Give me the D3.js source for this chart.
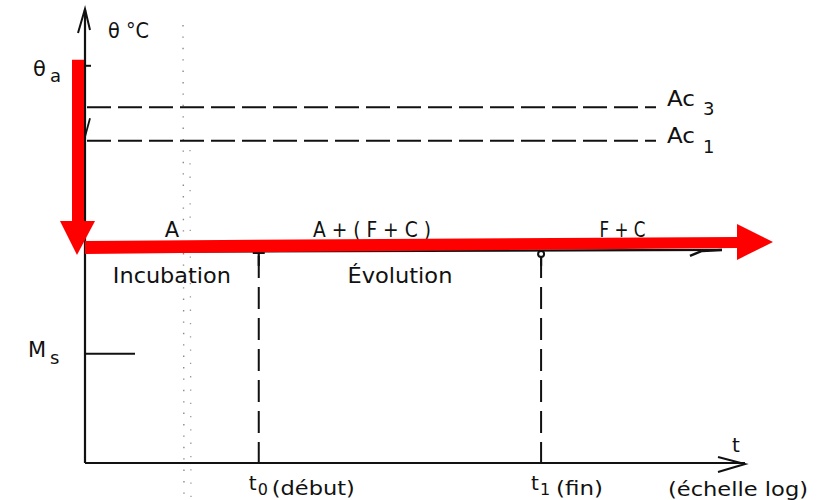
<!DOCTYPE html>
<html>
<head>
<meta charset="utf-8">
<script src="https://cdn.jsdelivr.net/npm/d3@7"></script>
<style>
  html, body { margin: 0; background: #fff; }
  svg { display: block; }
  text { font-family: "DejaVu Sans", "Liberation Sans", sans-serif; fill: #111; }
</style>
</head>
<body>
<svg id="chart" width="823" height="500"></svg>
<script>
// Critical temperatures (°C) marked on the temperature axis
const levelLabels = ["θa", "Ac3", "Ac1", "Ms"];
const levelTemps = [873, 782, 708, 240];

// Isothermal hold temperature and the end of the hold (time units, log axis)
const isoTemp = 464;
const isoEnd = 7250;

// Start and end of the transformation
const timeLabels = ["t0", "t1"];
const timeNotes = ["(début)", "(fin)"];
const timeValues = [11.3, 581];

// Phases present in each time zone, and the stage names
const phaseLabels = ["A", "A + ( F + C )", "F + C"];
const stageLabels = ["Incubation", "Évolution"];

const svg = d3.select("#chart");
const ink = "#111";

const x = d3.scaleLog().domain([1, 1e4]).range([85, 745]);
const y = d3.scaleLinear().domain([0, 1000]).range([463, 8]);

const x0 = x(1), yIso = y(isoTemp), yBase = y(0);
const line = d3.line();

// faint dotted streak across the sheet
svg.append("path")
  .attr("d", line([[183, 25], [184, 500]]))
  .attr("stroke", "#8a8a8a").attr("stroke-width", 1.4)
  .attr("stroke-dasharray", "1.4,10").attr("fill", "none");
svg.append("path")
  .attr("d", line([[190, 150], [191, 500]]))
  .attr("stroke", "#999").attr("stroke-width", 1.3)
  .attr("stroke-dasharray", "1.3,12").attr("fill", "none");

// temperature axis with arrow
svg.append("path")
  .attr("d", line([[x0, yBase], [x0, y(1000) + 2]]))
  .attr("stroke", ink).attr("stroke-width", 2.2).attr("fill", "none");
svg.append("path")
  .attr("d", line([[x0 - 7, y(1000) + 25], [x0, y(1000) + 1], [x0 + 5, y(1000) + 22]]))
  .attr("stroke", ink).attr("stroke-width", 2).attr("fill", "none");

// time axis with arrow
svg.append("path")
  .attr("d", line([[x0, yBase], [x(1e4), yBase]]))
  .attr("stroke", ink).attr("stroke-width", 2.2).attr("fill", "none");
svg.append("path")
  .attr("d", line([[x(1e4) - 27, yBase - 6], [x(1e4), yBase + 1], [x(1e4) - 27, yBase + 9]]))
  .attr("stroke", ink).attr("stroke-width", 2).attr("fill", "none");

// axis titles
svg.append("text").attr("x", 108).attr("y", 38)
  .attr("font-size", 21).attr("textLength", 41).attr("lengthAdjust", "spacingAndGlyphs")
  .text("θ °C");
svg.append("text").attr("x", x(1e4) - 13).attr("y", 452)
  .attr("font-size", 20).text("t");
svg.append("text").attr("x", 668).attr("y", 496)
  .attr("font-size", 20).attr("textLength", 140).attr("lengthAdjust", "spacingAndGlyphs")
  .text("(échelle log)");

// temperature levels: θa tick, Ac3 / Ac1 dashed, Ms tick
const levelStyle = [
  { end: x0 + 6, dash: null, dx: 33, subDx: 17, dy: 10, subDy: 16, w: null },
  { end: 656, dash: "24,7", dx: 667, subDx: 36, dy: -1, subDy: 8, w: 28 },
  { end: 656, dash: "24,7", dx: 667, subDx: 36, dy: 2, subDy: 12, w: 28 },
  { end: x0 + 50, dash: null, dx: 28, subDx: 22, dy: 3, subDy: 10, w: null }
];
levelTemps.forEach((t, i) => {
  const s = levelStyle[i];
  const start = s.dash ? x0 + 2 : x0;
  svg.append("path")
    .attr("d", line([[start, y(t)], [s.end, y(t)]]))
    .attr("stroke", ink).attr("stroke-width", 2)
    .attr("stroke-dasharray", s.dash).attr("fill", "none");
  const lab = levelLabels[i];
  const base = svg.append("text").attr("x", s.dx).attr("y", y(t) + s.dy)
    .attr("font-size", 21).text(lab.slice(0, -1));
  if (s.w) base.attr("textLength", s.w).attr("lengthAdjust", "spacingAndGlyphs");
  svg.append("text").attr("x", s.dx + s.subDx).attr("y", y(t) + s.subDy)
    .attr("font-size", 18).text(lab.slice(-1));
});

// start of the transformation curve near the axis
svg.append("path")
  .attr("d", line([[x0, y(levelTemps[2]) - 4], [x0 + 5, y(levelTemps[1]) + 11]]))
  .attr("stroke", ink).attr("stroke-width", 1.8).attr("fill", "none");

// isothermal hold line with its arrow
svg.append("path")
  .attr("d", line([[x0, yIso], [x(isoEnd), yIso - 2]]))
  .attr("stroke", ink).attr("stroke-width", 2.2).attr("fill", "none");
svg.append("path")
  .attr("d", line([[x(isoEnd) - 32, yIso + 4], [x(isoEnd) - 20, yIso - 1], [x(isoEnd), yIso - 2]]))
  .attr("stroke", ink).attr("stroke-width", 2.5).attr("fill", "none");

// t0 / t1 dashed markers
timeValues.forEach((t, i) => {
  const xt = x(t);
  svg.append("path")
    .attr("d", line([[xt, yIso + 4], [xt, yBase]]))
    .attr("stroke", ink).attr("stroke-width", 2)
    .attr("stroke-dasharray", "22,9").attr("fill", "none");
  if (i === 0) {
    svg.append("path").attr("d", line([[xt - 6, yIso + 1], [xt + 6, yIso + 1]]))
      .attr("stroke", ink).attr("stroke-width", 2.2);
    svg.append("path").attr("d", line([[xt, yIso + 1], [xt, yIso + 14]]))
      .attr("stroke", ink).attr("stroke-width", 2.2);
  } else {
    svg.append("circle").attr("cx", xt).attr("cy", yIso + 2).attr("r", 3)
      .attr("fill", "none").attr("stroke", ink).attr("stroke-width", 2);
    svg.append("path").attr("d", line([[xt, yIso + 4], [xt, yIso + 14]]))
      .attr("stroke", ink).attr("stroke-width", 2.2);
  }
  const lab = timeLabels[i];
  svg.append("text").attr("x", xt - 10).attr("y", 490)
    .attr("font-size", 20).text(lab.slice(0, -1));
  svg.append("text").attr("x", xt - 1).attr("y", 495)
    .attr("font-size", 16).text(lab.slice(-1));
  svg.append("text").attr("x", xt + (i === 0 ? 13 : 15)).attr("y", 495)
    .attr("font-size", 20)
    .attr("textLength", i === 0 ? 83 : 47).attr("lengthAdjust", "spacingAndGlyphs")
    .text(timeNotes[i]);
});

// zone labels above and below the hold line
const bounds = [1, ...timeValues, isoEnd];
const phaseShift = [0, -28, -9];
const phaseWidth = [null, 118, 46];
phaseLabels.forEach((p, i) => {
  const xm = x(Math.sqrt(bounds[i] * bounds[i + 1])) + phaseShift[i];
  const t = svg.append("text").attr("x", xm).attr("y", yIso - 15)
    .attr("text-anchor", "middle").attr("font-size", 21).text(p);
  if (phaseWidth[i]) t.attr("textLength", phaseWidth[i]).attr("lengthAdjust", "spacingAndGlyphs");
});
const stageWidth = [118, 105];
stageLabels.forEach((s, i) => {
  const xm = x(Math.sqrt(bounds[i] * bounds[i + 1]));
  svg.append("text").attr("x", xm).attr("y", yIso + 31)
    .attr("text-anchor", "middle").attr("font-size", 21)
    .attr("textLength", stageWidth[i]).attr("lengthAdjust", "spacingAndGlyphs")
    .text(s);
});

// red cooling path: quench from θa down to the hold, then hold along time
const red = "#ff0000";
const yTop = y(levelTemps[0]) - 6;
svg.append("path")
  .attr("d", line([[x0 - 13, yTop], [x0 - 1, yTop], [x0 - 1, yIso - 31], [x0 - 13, yIso - 31]]) + "Z")
  .attr("fill", red);
svg.append("path")
  .attr("d", line([[x0 - 25, yIso - 31], [x0 + 10, yIso - 31], [x0 - 8, yIso + 3]]) + "Z")
  .attr("fill", red);
const xHead = x0 + 652;
svg.append("path")
  .attr("d", line([[x0, yIso - 11], [xHead, yIso - 15], [xHead, yIso - 4], [x0, yIso + 2]]) + "Z")
  .attr("fill", red);
svg.append("path")
  .attr("d", line([[xHead, yIso - 28], [xHead + 36, yIso - 10], [xHead, yIso + 8]]) + "Z")
  .attr("fill", red);
</script>
</body>
</html>
